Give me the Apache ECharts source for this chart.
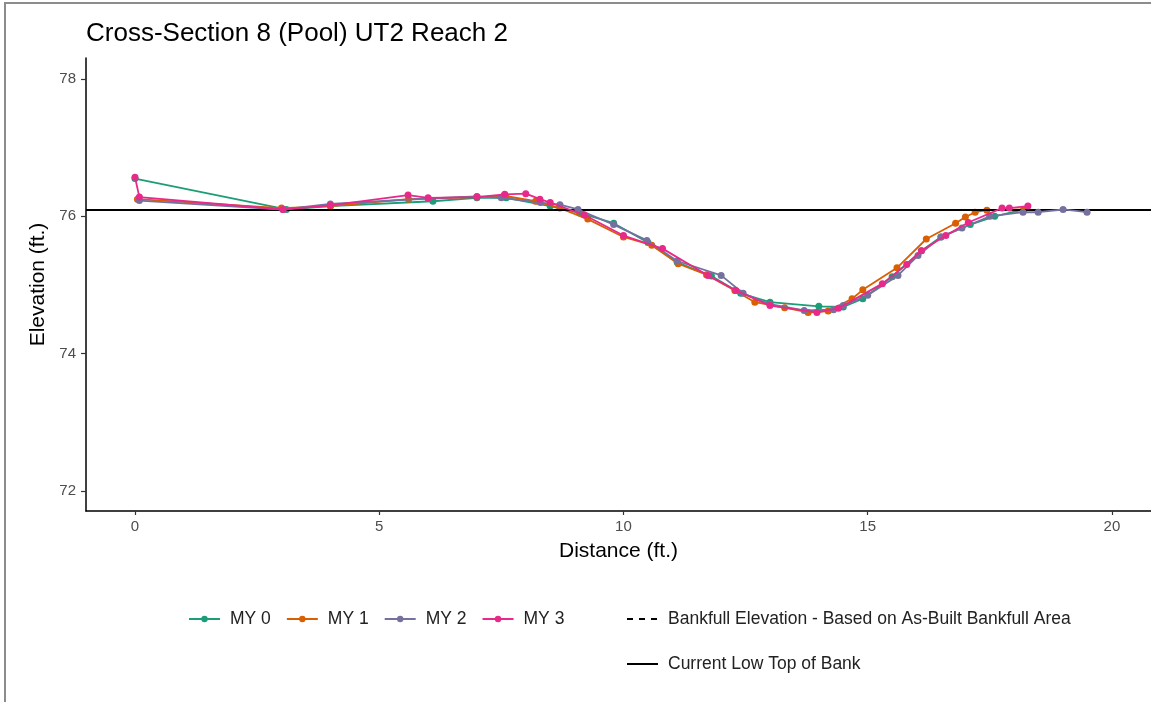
<!DOCTYPE html>
<html>
<head>
<meta charset="utf-8">
<script src="https://cdn.jsdelivr.net/npm/echarts@6/dist/echarts.min.js"></script>
<style>
html, body { margin: 0; padding: 0; background: #fff; overflow: hidden; }
#frame {
    position: absolute; left: 4px; top: 2px; width: 1200px; height: 760px;
    border-left: 2px solid #8c8c8c; border-top: 2px solid #8c8c8c;
}
#chart { position: absolute; left: 0; top: 0; width: 1151px; height: 702px; }
</style>
</head>
<body>
<div id="frame"></div>
<div id="chart"></div>
<script>
// survey names
const surveys = ["MY 0", "MY 1", "MY 2", "MY 3"];

// MY 0
const my0Dist = [0, 3.1, 4.0, 6.1, 7.0, 7.6, 8.5, 9.1, 9.8, 10.5, 11.1, 11.8, 12.4, 13.0, 14.0, 14.5, 14.9, 15.5, 16.1, 16.5, 17.1, 17.6, 18.2];
const my0Elev = [76.55, 76.10, 76.15, 76.22, 76.27, 76.27, 76.15, 76.05, 75.90, 75.62, 75.33, 75.13, 74.88, 74.75, 74.69, 74.68, 74.80, 75.12, 75.50, 75.70, 75.88, 76.00, 76.10];

// MY 1
const my1Dist = [0.05, 3.0, 4.0, 5.6, 7.0, 7.55, 8.2, 8.7, 9.27, 10.0, 10.58, 11.12, 11.7, 12.28, 12.69, 13.3, 13.78, 14.19, 14.68, 14.9, 15.6, 16.2, 16.8, 17.0, 17.2, 17.44, 18.2];
const my1Elev = [76.25, 76.12, 76.15, 76.25, 76.28, 76.30, 76.22, 76.12, 75.96, 75.70, 75.58, 75.31, 75.15, 74.92, 74.75, 74.67, 74.60, 74.62, 74.80, 74.93, 75.25, 75.67, 75.90, 75.99, 76.06, 76.09, 76.10];

// MY 2
const my2Dist = [0.09, 3.03, 4.0, 6.0, 7.0, 7.5, 8.3, 8.7, 9.07, 9.8, 10.48, 11.1, 12.0, 12.45, 13.0, 13.7, 14.3, 14.5, 15.0, 15.62, 16.03, 16.5, 16.93, 17.5, 18.18, 18.49, 19.0, 19.49];
const my2Elev = [76.23, 76.10, 76.18, 76.26, 76.29, 76.27, 76.20, 76.17, 76.10, 75.88, 75.65, 75.35, 75.14, 74.88, 74.72, 74.63, 74.64, 74.70, 74.85, 75.14, 75.43, 75.70, 75.83, 76.00, 76.06, 76.06, 76.10, 76.06];

// MY 3
const my3Dist = [0, 0.09, 3.03, 4.0, 5.59, 6.0, 7.0, 7.57, 8.0, 8.29, 8.5, 9.2, 10.0, 10.8, 11.73, 12.3, 13.0, 13.96, 14.4, 15.3, 15.8, 16.1, 16.6, 17.06, 17.75, 17.9, 18.28];
const my3Elev = [76.57, 76.28, 76.10, 76.16, 76.31, 76.27, 76.28, 76.32, 76.33, 76.25, 76.20, 76.02, 75.72, 75.53, 75.14, 74.92, 74.70, 74.60, 74.66, 75.02, 75.30, 75.50, 75.72, 75.91, 76.12, 76.12, 76.15];

// reference lines
const bankfullElevation = 76.1;
const lowTopOfBank = 76.1;

// tick labels
const xTicks = [0, 5, 10, 15, 20];
const yTicks = [72, 74, 76, 78];

const colors = ["#1b9e77", "#d95f02", "#75719f", "#e7298a"];
const distances = [my0Dist, my1Dist, my2Dist, my3Dist];
const elevations = [my0Elev, my1Elev, my2Elev, my3Elev];

const font = "Liberation Sans";

const chart = echarts.init(document.getElementById("chart"));

const surveySeries = surveys.map((name, i) => ({
    name: name,
    type: "line",
    data: distances[i].map((d, j) => [d, elevations[i][j]]),
    symbol: "circle",
    symbolSize: 7,
    lineStyle: {color: colors[i], width: 1.8},
    itemStyle: {color: colors[i]},
    emphasis: {disabled: true},
    z: 3 + i
}));

const legendText = {fontFamily: font, fontSize: 17.5, color: "#222", padding: [0, 0, 0, 5]};

const option = {
    animation: false,
    textStyle: {fontFamily: font},
    title: {
        text: "Cross-Section 8 (Pool) UT2 Reach 2",
        left: 86,
        top: 21,
        padding: 0,
        textStyle: {fontFamily: font, fontSize: 26, fontWeight: "normal", color: "#000"}
    },
    legend: [
        {
            data: surveys,
            left: 183,
            top: 605,
            itemWidth: 31,
            itemHeight: 8,
            itemGap: 15,
            textStyle: legendText
        },
        {
            data: ["Bankfull Elevation - Based on As-Built Bankfull Area"],
            left: 621,
            top: 605,
            itemWidth: 31,
            itemHeight: 8,
            itemStyle: {color: "rgba(0,0,0,0)", borderWidth: 0},
            textStyle: legendText
        },
        {
            data: ["Current Low Top of Bank"],
            left: 621,
            top: 650,
            itemWidth: 31,
            itemHeight: 8,
            itemStyle: {color: "rgba(0,0,0,0)", borderWidth: 0},
            textStyle: legendText
        }
    ],
    grid: {left: 86, right: 0, top: 58, bottom: 191, containLabel: false},
    xAxis: {
        type: "value",
        min: -1.003,
        max: 20.8,
        name: "Distance (ft.)",
        nameLocation: "middle",
        nameGap: 30,
        nameTextStyle: {fontFamily: font, fontSize: 21, color: "#000"},
        axisLine: {onZero: false, lineStyle: {color: "#000", width: 1.5}},
        axisTick: {customValues: xTicks, length: 4, lineStyle: {color: "#333", width: 1.2}},
        axisLabel: {customValues: xTicks, fontSize: 15, color: "#4d4d4d", margin: 8},
        splitLine: {show: false}
    },
    yAxis: {
        type: "value",
        min: 71.709,
        max: 78.306,
        name: "Elevation (ft.)",
        nameLocation: "middle",
        nameGap: 36,
        nameTextStyle: {fontFamily: font, fontSize: 21, color: "#000"},
        axisLine: {show: true, onZero: false, lineStyle: {color: "#000", width: 1.5}},
        axisTick: {show: true, customValues: yTicks, length: 5, lineStyle: {color: "#333", width: 1.2}},
        axisLabel: {customValues: yTicks, fontSize: 15, color: "#4d4d4d", margin: 10},
        splitLine: {show: false}
    },
    series: [
        ...surveySeries,
        {
            name: "Bankfull Elevation - Based on As-Built Bankfull Area",
            type: "line",
            data: [],
            symbol: "none",
            lineStyle: {color: "#000", width: 2, type: [6, 6]},
            itemStyle: {color: "#000"},
            markLine: {
                silent: true,
                symbol: "none",
                label: {show: false},
                lineStyle: {color: "#000", width: 2, type: "dashed"},
                data: [{yAxis: bankfullElevation}]
            },
            z: 8
        },
        {
            name: "Current Low Top of Bank",
            type: "line",
            data: [],
            symbol: "none",
            lineStyle: {color: "#000", width: 2, type: "solid"},
            itemStyle: {color: "#000"},
            markLine: {
                silent: true,
                symbol: "none",
                label: {show: false},
                lineStyle: {color: "#000", width: 2, type: "solid"},
                data: [{yAxis: lowTopOfBank}]
            },
            z: 9
        }
    ]
};

chart.setOption(option);
</script>
</body>
</html>
